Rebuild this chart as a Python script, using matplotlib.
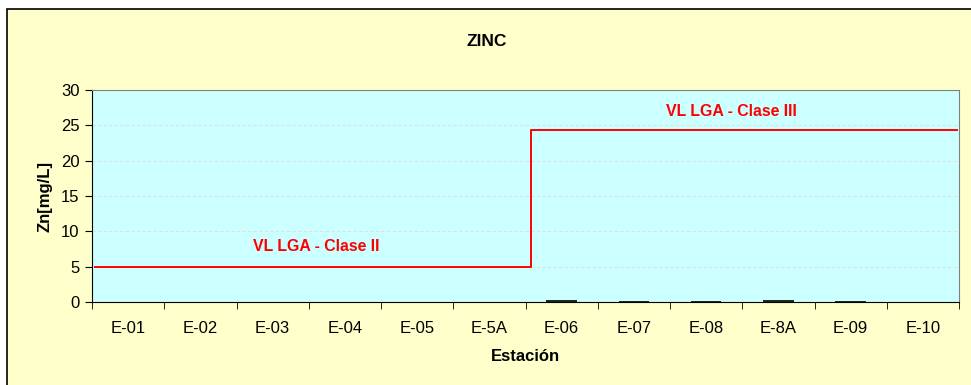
import matplotlib.pyplot as plt
from matplotlib.patches import Rectangle

plt.rcParams['font.family'] = ['Liberation Sans', 'DejaVu Sans']

estaciones = ["E-01", "E-02", "E-03", "E-04", "E-05", "E-5A",
              "E-06", "E-07", "E-08", "E-8A", "E-09", "E-10"]
zinc = [0, 0, 0, 0, 0, 0, 0.25, 0.15, 0.2, 0.25, 0.2, 0]

# limite VL LGA (clase II hasta E-5A, clase III despues)
limite_x = [-0.46, 5.57, 5.57, 11.47]
limite_y = [5, 5, 24.4, 24.4]

fig = plt.figure(figsize=(9.71, 3.85), dpi=100)
fig.patch.set_facecolor("white")
fig.patches.append(Rectangle((7/971, -0.01), 1.0, (385-9)/385 + 0.01,
                             transform=fig.transFigure, facecolor="#FFFFCC",
                             edgecolor="black", linewidth=1.2, zorder=-10))

ax = fig.add_axes([92/971, (385-302)/385, (959-92)/971, (302-90)/385])
ax.set_facecolor("#CCFFFF")

x = range(len(estaciones))
ax.bar(x, zinc, width=0.42, color="#1a2a1a", zorder=3)
ax.plot(limite_x, limite_y, color="red", linewidth=1.4, zorder=4)

ax.set_xlim(-0.5, len(estaciones) - 0.5)
ax.set_ylim(0, 30)
ax.set_yticks(range(0, 31, 5))
ax.set_xticks(x)
ax.set_xticklabels(estaciones, fontsize=12)
ax.set_xticks([i - 0.5 for i in range(len(estaciones) + 1)], minor=True)
ax.tick_params(axis="x", which="major", length=0, pad=14)
ax.tick_params(axis="x", which="minor", length=5, direction="out")
ax.tick_params(axis="y", length=5, labelsize=12, pad=4)
ax.grid(axis="y", color="#e0e0e0", linestyle=(0, (3, 2)), linewidth=0.8, zorder=0)

for s in ["top", "right"]:
    ax.spines[s].set_color("#808080")
for s in ["left", "bottom"]:
    ax.spines[s].set_color("black")

ax.text(2.6, 7.9, "VL LGA - Clase II", color="red", fontsize=11.4, fontweight="bold",
        ha="center", va="center")
ax.text(8.35, 27.0, "VL LGA - Clase III", color="red", fontsize=11.4, fontweight="bold",
        ha="center", va="center")

ax.set_xlabel("Estación", fontsize=12, fontweight="bold", labelpad=9)
ax.set_ylabel("Zn[mg/L]", fontsize=12, fontweight="bold", labelpad=6)
fig.text(487/971, 1 - 42/385, "ZINC", fontsize=12.5, fontweight="bold",
         ha="center", va="center")

fig.savefig("out.png", dpi=100)
